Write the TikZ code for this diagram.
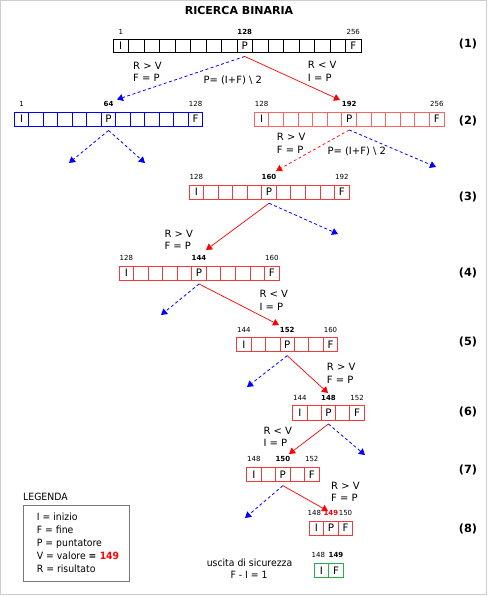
\documentclass[tikz,border=0pt]{standalone}
\usepackage{fontspec}
\setmainfont{DejaVu Sans}
\newfontfamily\narrowfont[FakeStretch=0.93]{DejaVu Sans}
\usetikzlibrary{arrows.meta}
\definecolor{bl}{RGB}{0,0,255}
\definecolor{rd}{RGB}{255,0,0}
\definecolor{cellred}{RGB}{240,60,60}
\definecolor{cellpink}{RGB}{250,100,100}
\definecolor{gr}{RGB}{40,170,80}
\definecolor{framec}{RGB}{205,205,205}
\definecolor{legc}{RGB}{120,120,120}
\tikzset{
 x=1pt,y=-1pt,
 cell/.style={draw,line width=0.9pt,inner sep=0pt,font=\fontsize{10.3}{12}\selectfont},
 idx/.style={font=\fontsize{7}{8}\selectfont,anchor=base,inner sep=0pt},
 idxb/.style={idx,font=\fontsize{7}{8}\selectfont\bfseries},
 txt/.style={font=\fontsize{10}{12}\selectfont,anchor=base west,inner sep=0pt},
 ntxt/.style={font=\fontsize{10}{12}\narrowfont,anchor=base west,inner sep=0pt},
 ctxt/.style={font=\fontsize{10}{12}\narrowfont,anchor=base,inner sep=0pt},
 stepno/.style={font=\fontsize{11.3}{13}\selectfont\bfseries,inner sep=0pt},
 tip/.style={-{Triangle[length=6pt,width=7pt]}},
 blarrow/.style={draw=bl,line width=0.8pt,dash pattern=on 3pt off 2.5pt,tip},
 rdarrow/.style={draw=rd,line width=0.7pt,tip},
 rddash/.style={rdarrow,dash pattern=on 3pt off 2.5pt},
}
% #1 name, #2 x-left, #3 y-top, #4 n, #5 cell width, #6 P index, #7 colour, #8 height
\newcommand\cellrow[8]{%
 \foreach \i in {1,...,#4}{%
  \node[cell,draw=#7,minimum width=#5pt,minimum height=#8pt] (#1\i) at ({#2+(\i-0.5)*#5},{#3+#8/2}) {\ifnum\i=1 I\else\ifnum\i=#6 P\else\ifnum\i=#4 F\fi\fi\fi};
 }%
}
% two-line condition text: #1 name, #2 x, #3 baseline y, #4 line 1, #5 line 2
\newcommand\condtext[5]{%
 \node[txt] (#1a) at (#2,#3) {#4};
 \node[txt] (#1b) at (#2,#3+12.3) {#5};
}
\begin{document}
\begin{tikzpicture}
\useasboundingbox (0,0) rectangle (487,596);
\fill[white] (0,0) rectangle (487,596);
\draw[framec,line width=1pt] (0.5,0.5) rectangle (486,594.5);

\node[font=\fontsize{11}{13}\selectfont\bfseries,anchor=base,inner sep=0pt] (title) at (239,14.3) {RICERCA BINARIA};

% rows
\cellrow{a}{113}{39.5}{16}{15.5}{9}{black}{13}
\cellrow{b}{14.3}{112}{13}{14.5}{7}{bl}{14}
\cellrow{c}{254.3}{112}{13}{14.6}{7}{cellpink}{14}
\cellrow{d}{189}{185}{11}{14.55}{6}{cellred}{14.3}
\cellrow{e}{119}{266}{11}{14.55}{6}{cellred}{14}
\cellrow{f}{236.7}{337.7}{7}{14.43}{4}{cellred}{14}
\cellrow{g}{292.7}{405.5}{5}{14.3}{3}{cellred}{14.5}
\cellrow{h}{246.7}{467.3}{5}{14.45}{3}{cellred}{14.4}
\cellrow{k}{309}{521}{3}{14.6}{2}{cellred}{14}
\cellrow{m}{314}{563.3}{2}{14.65}{0}{gr}{14.4}

% index labels
\node[idx] at ([yshift=5pt]a1.north) {1};
\node[idxb] at ([yshift=5pt]a9.north) {128};
\node[idx] at ([yshift=5pt]a16.north) {256};
\node[idx] at ([yshift=5pt]b1.north) {1};
\node[idxb] at ([yshift=5pt]b7.north) {64};
\node[idx] at ([yshift=5pt]b13.north) {128};
\node[idx] at ([yshift=5pt]c1.north) {128};
\node[idxb] at ([yshift=5pt]c7.north) {192};
\node[idx] at ([yshift=5pt]c13.north) {256};
\node[idx] at ([yshift=5pt]d1.north) {128};
\node[idxb] at ([yshift=5pt]d6.north) {160};
\node[idx] at ([yshift=5pt]d11.north) {192};
\node[idx] at ([yshift=5pt]e1.north) {128};
\node[idxb] at ([yshift=5pt]e6.north) {144};
\node[idx] at ([yshift=5pt]e11.north) {160};
\node[idx] at ([yshift=5pt]f1.north) {144};
\node[idxb] at ([yshift=5pt]f4.north) {152};
\node[idx] at ([yshift=5pt]f7.north) {160};
\node[idx] at ([yshift=5pt]g1.north) {144};
\node[idxb] at ([yshift=5pt]g3.north) {148};
\node[idx] at ([yshift=5pt]g5.north) {152};
\node[idx] at ([yshift=5pt]h1.north) {148};
\node[idxb] at ([yshift=5pt]h3.north) {150};
\node[idx] at ([yshift=5pt]h5.north) {152};
\node[idx,xshift=-2pt] at ([yshift=5pt]k1.north) {148};
\node[idxb,text=rd] at ([yshift=5pt]k2.north) {149};
\node[idx] at ([yshift=5pt]k3.north) {150};
\node[idx,xshift=-3pt] at ([yshift=5pt]m1.north) {148};
\node[idxb] at ([yshift=5pt]m2.north) {149};

% arrow start / end points
\coordinate (sa) at ([yshift=-3.5pt]a9.south);
\coordinate (sb) at ([yshift=-4pt]b7.south);
\coordinate (sc) at ([yshift=-3.5pt]c7.south);
\coordinate (sd) at ([yshift=-3.5pt]d6.south);
\coordinate (se) at ([yshift=-3.5pt]e6.south);
\coordinate (sf) at ([yshift=-3.5pt]f4.south);
\coordinate (sg) at ([yshift=-3.5pt]g3.south);
\coordinate (sh) at ([yshift=-3.5pt]h3.south);
\coordinate (ea1) at (117,99.5);
\coordinate (ea2) at (340,100);
\coordinate (eb1) at (69,163);
\coordinate (eb2) at (145,163);
\coordinate (ec1) at (276,171);
\coordinate (ec2) at (436,167);
\coordinate (ed1) at (206,250);
\coordinate (ed2) at (338,234);
\coordinate (ee1) at (161,315);
\coordinate (ee2) at (279,325);
\coordinate (ef1) at (247,387);
\coordinate (ef2) at (328,393);
\coordinate (eg1) at (289,454);
\coordinate (eg2) at (365,455);
\coordinate (eh1) at (245,518);
\coordinate (eh2) at (328,511);

\draw[blarrow] (sa) -- (ea1);
\draw[rdarrow] (sa) -- (ea2);
\draw[blarrow] (sb) -- (eb1);
\draw[blarrow] (sb) -- (eb2);
\draw[rddash] (sc) -- (ec1);
\draw[blarrow] (sc) -- (ec2);
\draw[rdarrow] (sd) -- (ed1);
\draw[blarrow] (sd) -- (ed2);
\draw[blarrow] (se) -- (ee1);
\draw[rdarrow] (se) -- (ee2);
\draw[blarrow] (sf) -- (ef1);
\draw[rdarrow] (sf) -- (ef2);
\draw[rdarrow] (sg) -- (eg1);
\draw[blarrow] (sg) -- (eg2);
\draw[blarrow] (sh) -- (eh1);
\draw[rdarrow] (sh) -- (eh2);

% condition texts
\condtext{t1}{133}{69.3}{R > V}{F = P}
\node[txt] (t2) at (203.3,83.3) {P= (I+F) \textbackslash{} 2};
\condtext{t3}{307.7}{69}{R < V}{I = P}
\condtext{t4}{276.7}{141}{R > V}{F = P}
\node[txt] (t5) at (327.3,155) {P= (I+F) \textbackslash{} 2};
\condtext{t6}{164.3}{237.3}{R > V}{F = P}
\condtext{t7}{259.3}{297.7}{R < V}{I = P}
\condtext{t8}{326.7}{370.7}{R > V}{F = P}
\condtext{t9}{263.3}{434}{R < V}{I = P}
\condtext{t10}{331}{489.3}{R > V}{F = P}

% step numbers
\node[stepno] (n1) at (468,44) {(1)};
\node[stepno] (n2) at (468,120.5) {(2)};
\node[stepno] (n3) at (468,197) {(3)};
\node[stepno] (n4) at (468,273) {(4)};
\node[stepno] (n5) at (468,342) {(5)};
\node[stepno] (n6) at (468,412) {(6)};
\node[stepno] (n7) at (468,470) {(7)};
\node[stepno] (n8) at (468,529) {(8)};

% legend
\node[ntxt] (legt) at (23,500.7) {LEGENDA};
\node[draw=legc,line width=0.9pt,minimum width=106.3pt,minimum height=76pt,anchor=north west,inner sep=0pt] (leg) at (22.7,505) {};
\node[ntxt] (l1) at (36.7,520) {I = inizio};
\node[ntxt] (l2) at (36.7,533) {F = fine};
\node[ntxt] (l3) at (36.7,546) {P = puntatore};
\node[ntxt] (l4) at (36.7,559.3) {V = valore \textbf{= \textcolor{rd}{149}}};
\node[ntxt] (l5) at (36.7,572) {R = risultato};

% safety exit
\node[ctxt] (u1) at (249.5,566) {uscita di sicurezza};
\node[ctxt] (u2) at (249,578.3) {F - I = 1};
\end{tikzpicture}
\end{document}
